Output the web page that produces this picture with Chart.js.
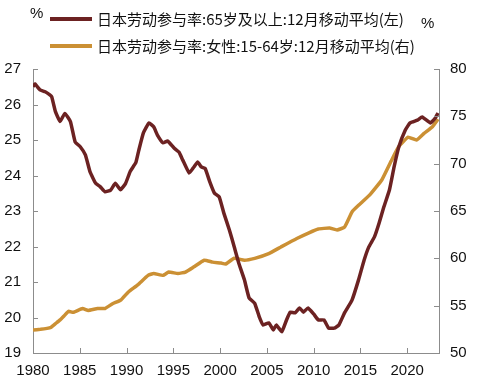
<!DOCTYPE html>
<html>
<head>
<meta charset="utf-8">
<script src="https://cdn.jsdelivr.net/npm/chart.js@4"></script>
<style>
  html, body { margin: 0; padding: 0; background: #fff; }
  #wrap { width: 481px; height: 383px; }
</style>
</head>
<body>
<div id="wrap"><canvas id="myChart" width="481" height="383"></canvas></div>
<script>
var seriesLabels = [
    '日本劳动参与率:65岁及以上:12月移动平均(左)',
    '日本劳动参与率:女性:15-64岁:12月移动平均(右)'
];

// 65岁及以上 (left axis)
var olderYears = [1980.0, 1980.2, 1980.75, 1981.3, 1981.8, 1982.0, 1982.4, 1982.9, 1983.4, 1984.0,
    1984.5, 1985.05, 1985.6, 1986.1, 1986.7, 1987.2, 1987.7, 1988.3, 1988.8, 1989.35,
    1989.9, 1990.4, 1991.0, 1991.3, 1991.8, 1992.4, 1992.9, 1993.3, 1993.9, 1994.4,
    1995.1, 1995.6, 1996.0, 1996.7, 1997.2, 1997.6, 1998.0, 1998.4, 1998.9, 1999.4,
    1999.9, 2000.4, 2001.0, 2001.5, 2002.0, 2002.6, 2003.1, 2003.7, 2004.2, 2004.6,
    2005.2, 2005.7, 2006.0, 2006.6, 2007.1, 2007.5, 2008.0, 2008.5, 2008.9, 2009.4,
    2010.0, 2010.5, 2011.1, 2011.6, 2012.2, 2012.7, 2013.3, 2014.1, 2014.8, 2015.4,
    2015.9, 2016.5, 2017.0, 2017.5, 2018.1, 2018.6, 2019.1, 2019.8, 2020.3, 2021.1,
    2021.6, 2022.5, 2023.0, 2023.3];
var olderValues = [26.50, 26.58, 26.41, 26.36, 26.27, 26.22, 25.80, 25.52, 25.75, 25.52,
    24.95, 24.81, 24.58, 24.10, 23.78, 23.68, 23.54, 23.59, 23.78, 23.60,
    23.78, 24.12, 24.37, 24.70, 25.20, 25.48, 25.37, 25.14, 24.92, 24.97,
    24.77, 24.66, 24.44, 24.07, 24.24, 24.38, 24.24, 24.20, 23.82, 23.50,
    23.40, 22.94, 22.46, 22.00, 21.53, 21.06, 20.55, 20.40, 20.01, 19.79,
    19.85, 19.65, 19.79, 19.60, 19.93, 20.15, 20.13, 20.27, 20.15, 20.27,
    20.10, 19.93, 19.93, 19.70, 19.70, 19.79, 20.13, 20.49, 21.06, 21.62,
    21.99, 22.27, 22.66, 23.11, 23.59, 24.24, 24.80, 25.28, 25.48, 25.56,
    25.65, 25.48, 25.62, 25.76];

// 女性 15-64岁 (right axis)
var femaleYears = [1980.0, 1980.8, 1981.5, 1981.9, 1982.4, 1982.9, 1983.4, 1983.8, 1984.3, 1985.3,
    1985.9, 1986.9, 1987.7, 1988.5, 1989.4, 1990.2, 1991.2, 1992.3, 1992.9, 1993.9,
    1994.5, 1995.5, 1996.3, 1997.2, 1998.3, 1999.2, 2000.1, 2000.6, 2001.5, 2002.6,
    2003.7, 2005.2, 2006.5, 2008.2, 2009.5, 2010.5, 2011.7, 2012.5, 2013.3, 2014.1,
    2014.8, 2016.0, 2017.3, 2018.3, 2019.1, 2020.1, 2021.0, 2021.8, 2022.7, 2023.3];
var femaleValues = [52.43, 52.5, 52.6, 52.7, 53.1, 53.5, 54.0, 54.4, 54.3, 54.7,
    54.5, 54.7, 54.7, 55.2, 55.6, 56.45, 57.2, 58.2, 58.4, 58.2,
    58.55, 58.4, 58.55, 59.1, 59.8, 59.6, 59.5, 59.4, 60.0, 59.8,
    60.0, 60.5, 61.2, 62.1, 62.7, 63.1, 63.2, 63.0, 63.3, 64.9,
    65.6, 66.7, 68.3, 70.3, 71.8, 72.8, 72.5, 73.2, 73.9, 74.7];

var xTicks = [1980, 1985, 1990, 1995, 2000, 2005, 2010, 2015, 2020];
var xRange = [1980, 2023.4];
var leftRange = [19, 27];
var rightRange = [50, 80];

var brown = 'rgb(108, 34, 34)';
var gold = 'rgb(203, 144, 52)';
var axisGray = '#8c8c8c';
var tickFont = { family: 'Liberation Sans', size: 15 };

function toPoints(xs, ys) {
    return xs.map(function (x, i) { return { x: x, y: ys[i] }; });
}

// short tick marks pointing into the plot
var innerTicks = {
    id: 'innerTicks',
    afterDraw: function (chart) {
        var c = chart.ctx;
        var area = chart.chartArea;
        c.save();
        c.strokeStyle = axisGray;
        c.lineWidth = 1;
        c.beginPath();
        chart.scales.x.ticks.forEach(function (t) {
            var px = Math.round(chart.scales.x.getPixelForValue(t.value)) + 0.5;
            c.moveTo(px, area.bottom);
            c.lineTo(px, area.bottom - 5);
        });
        chart.scales.y.ticks.forEach(function (t) {
            var py = Math.round(chart.scales.y.getPixelForValue(t.value)) + 0.5;
            c.moveTo(area.left, py);
            c.lineTo(area.left + 5, py);
        });
        chart.scales.y1.ticks.forEach(function (t) {
            var py = Math.round(chart.scales.y1.getPixelForValue(t.value)) + 0.5;
            c.moveTo(area.right, py);
            c.lineTo(area.right - 5, py);
        });
        c.stroke();
        c.restore();
    }
};

// legend and unit labels at the top
var topLegend = {
    id: 'topLegend',
    afterDraw: function (chart) {
        var c = chart.ctx;
        c.save();
        c.fillStyle = '#111';
        c.textBaseline = 'middle';
        c.font = '15px "Liberation Sans"';
        c.textAlign = 'left';
        c.fillText('%', 30, 14);
        c.fillText('%', 421, 24);
        var rows = [19, 46];
        chart.data.datasets.forEach(function (ds, i) {
            c.strokeStyle = ds.borderColor;
            c.lineWidth = 4;
            c.beginPath();
            c.moveTo(50, rows[i]);
            c.lineTo(92, rows[i]);
            c.stroke();
            c.fillStyle = '#111';
            c.font = '15px "Noto Sans CJK SC"';
            c.fillText(ds.label, 97, rows[i]);
        });
        c.restore();
    }
};

var ctx = document.getElementById('myChart').getContext('2d');

var mychart = new Chart(ctx, {
    type: 'line',
    data: {
        datasets: [{
            label: seriesLabels[0],
            data: toPoints(olderYears, olderValues),
            yAxisID: 'y',
            borderColor: brown,
            backgroundColor: brown,
            borderWidth: 3.5,
            pointRadius: 0,
            tension: 0.12
        }, {
            label: seriesLabels[1],
            data: toPoints(femaleYears, femaleValues),
            yAxisID: 'y1',
            borderColor: gold,
            backgroundColor: gold,
            borderWidth: 3.5,
            pointRadius: 0,
            tension: 0.12
        }]
    },
    options: {
        responsive: false,
        animation: false,
        layout: { padding: { top: 69, left: 0, right: 0, bottom: 0 } },
        plugins: {
            legend: { display: false },
            tooltip: { enabled: false }
        },
        scales: {
            x: {
                type: 'linear',
                min: xRange[0],
                max: xRange[1],
                grid: { drawOnChartArea: false, drawTicks: false },
                border: { color: axisGray },
                ticks: {
                    autoSkip: false,
                    maxRotation: 0,
                    padding: 9,
                    color: '#111',
                    font: tickFont,
                    callback: function (v) { return String(v); }
                },
                afterBuildTicks: function (s) {
                    s.ticks = xTicks.map(function (v) { return { value: v }; });
                },
                afterFit: function (s) { s.height = 30; }
            },
            y: {
                position: 'left',
                min: leftRange[0],
                max: leftRange[1],
                grid: { drawOnChartArea: false, drawTicks: false },
                border: { color: axisGray },
                ticks: { stepSize: 1, padding: 12, color: '#111', font: tickFont },
                afterFit: function (s) { s.width = 33; }
            },
            y1: {
                position: 'right',
                min: rightRange[0],
                max: rightRange[1],
                grid: { drawOnChartArea: false, drawTicks: false },
                border: { color: axisGray },
                ticks: { stepSize: 5, padding: 11, color: '#111', font: tickFont },
                afterFit: function (s) { s.width = 42; }
            }
        }
    },
    plugins: [innerTicks, topLegend]
});
</script>
</body>
</html>
